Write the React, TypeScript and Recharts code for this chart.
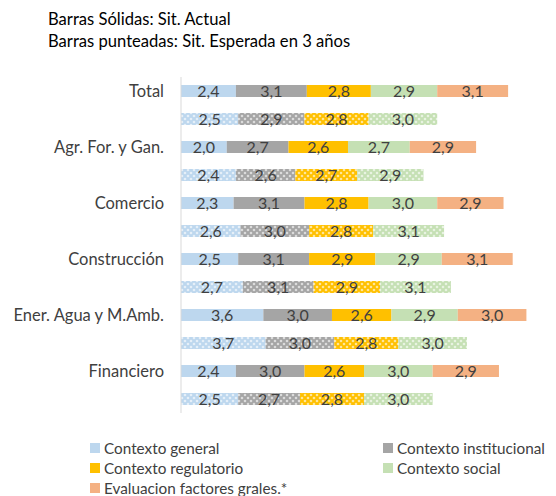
import React from "react";
import { BarChart, Bar, XAxis, YAxis, Cell, LabelList, Legend } from "recharts";

// sectores (cada uno tiene barra actual + barra esperada)
const categories = [
  "Total",
  "Agr. For. y Gan.",
  "Comercio",
  "Construcción",
  "Ener. Agua y M.Amb.",
  "Financiero"
];

// situación actual
const generalActual = [2.4, 2.0, 2.3, 2.5, 3.6, 2.4];
const institucionalActual = [3.1, 2.7, 3.1, 3.1, 3.0, 3.0];
const regulatorioActual = [2.8, 2.6, 2.8, 2.9, 2.6, 2.6];
const socialActual = [2.9, 2.7, 3.0, 2.9, 2.9, 3.0];
const evaluacionActual = [3.1, 2.9, 2.9, 3.1, 3.0, 2.9];

// situación esperada en 3 años
const generalEsperada = [2.5, 2.4, 2.6, 2.7, 3.7, 2.5];
const institucionalEsperada = [2.9, 2.6, 3.0, 3.1, 3.0, 2.7];
const regulatorioEsperada = [2.8, 2.7, 2.8, 2.9, 2.8, 2.8];
const socialEsperada = [3.0, 2.9, 3.1, 3.1, 3.0, 3.0];

const series = [
  { key: "cg", name: "Contexto general", color: "#bdd7ee" },
  { key: "ci", name: "Contexto institucional", color: "#a5a5a5" },
  { key: "cr", name: "Contexto regulatorio", color: "#ffc000" },
  { key: "cs", name: "Contexto social", color: "#c5e0b4" },
  { key: "ev", name: "Evaluacion factores grales.*", color: "#f4b183" }
];

const data = categories.flatMap((cat, i) => [
  {
    id: `a${i}`,
    label: cat,
    dotted: false,
    cg: generalActual[i],
    ci: institucionalActual[i],
    cr: regulatorioActual[i],
    cs: socialActual[i],
    ev: evaluacionActual[i]
  },
  {
    id: `e${i}`,
    label: "",
    dotted: true,
    cg: generalEsperada[i],
    ci: institucionalEsperada[i],
    cr: regulatorioEsperada[i],
    cs: socialEsperada[i]
  }
]);

const FONT = "Lato, 'Open Sans', sans-serif";
const TEXT = "#404040";

const fmt = (v: any) => (v == null ? "" : Number(v).toFixed(1).replace(".", ","));

const LegendGrid = () => (
  <div
    style={{
      display: "grid",
      gridTemplateColumns: "293px 160px",
      paddingLeft: 82,
      paddingTop: 25,
      fontFamily: FONT,
      fontSize: 15.3,
      color: TEXT,
      lineHeight: "20px"
    }}
  >
    {series.map((s) => (
      <div key={s.key} style={{ display: "flex", alignItems: "center", whiteSpace: "nowrap" }}>
        <span style={{ width: 10, height: 10, background: s.color, marginRight: 4, display: "inline-block", flexShrink: 0 }} />
        {s.name}
      </div>
    ))}
  </div>
);

export default function App() {
  return (
    <div style={{ position: "relative", width: 548, height: 488 }}>
      <div
        style={{
          position: "absolute",
          left: 40,
          top: 0,
          fontFamily: FONT,
          fontSize: 16.6,
          color: "#000",
          lineHeight: "22px"
        }}
      >
        <div>Barras Sólidas: Sit. Actual</div>
        <div>Barras punteadas: Sit. Esperada en 3 años</div>
      </div>
      <BarChart
        width={548}
        height={488}
        data={data}
        layout="vertical"
        barSize={12}
        margin={{ top: 69, right: 9, bottom: 0, left: 0 }}
      >
        <defs>
          {series.map((s) => (
            <pattern
              key={s.key}
              id={`dots-${s.key}`}
              width={6}
              height={6}
              patternUnits="userSpaceOnUse"
            >
              <rect width={6} height={6} fill={s.color} />
              <circle cx={0} cy={0} r={1.3} fill="#fff" opacity={0.6} />
              <circle cx={6} cy={0} r={1.3} fill="#fff" opacity={0.6} />
              <circle cx={0} cy={6} r={1.3} fill="#fff" opacity={0.6} />
              <circle cx={6} cy={6} r={1.3} fill="#fff" opacity={0.6} />
              <circle cx={3} cy={3} r={1.3} fill="#fff" opacity={0.6} />
            </pattern>
          ))}
        </defs>
        <XAxis type="number" domain={[0, 16]} hide />
        <YAxis
          type="category"
          dataKey="id"
          width={173}
          axisLine={{ stroke: "#d9d9d9" }}
          tickLine={false}
          tickSize={0}
          tickMargin={17}
          interval={0}
          tickFormatter={(_v: any, i: number) => data[i]?.label ?? ""}
          tick={{ fill: TEXT, fontSize: 16.5, fontFamily: FONT }}
        />
        <Legend
          verticalAlign="bottom"
          height={83}
          width={548}
          wrapperStyle={{ left: 0 }}
          content={() => <LegendGrid />}
        />
        {series.map((s) => (
          <Bar
            key={s.key}
            dataKey={s.key}
            name={s.name}
            stackId="a"
            fill={s.color}
            isAnimationActive={false}
          >
            {data.map((d) => (
              <Cell key={d.id} fill={d.dotted ? `url(#dots-${s.key})` : s.color} />
            ))}
            <LabelList
              dataKey={s.key}
              position="center"
              formatter={fmt}
              fill={TEXT}
              fontSize={16}
              fontFamily={FONT}
            />
          </Bar>
        ))}
      </BarChart>
    </div>
  );
}
